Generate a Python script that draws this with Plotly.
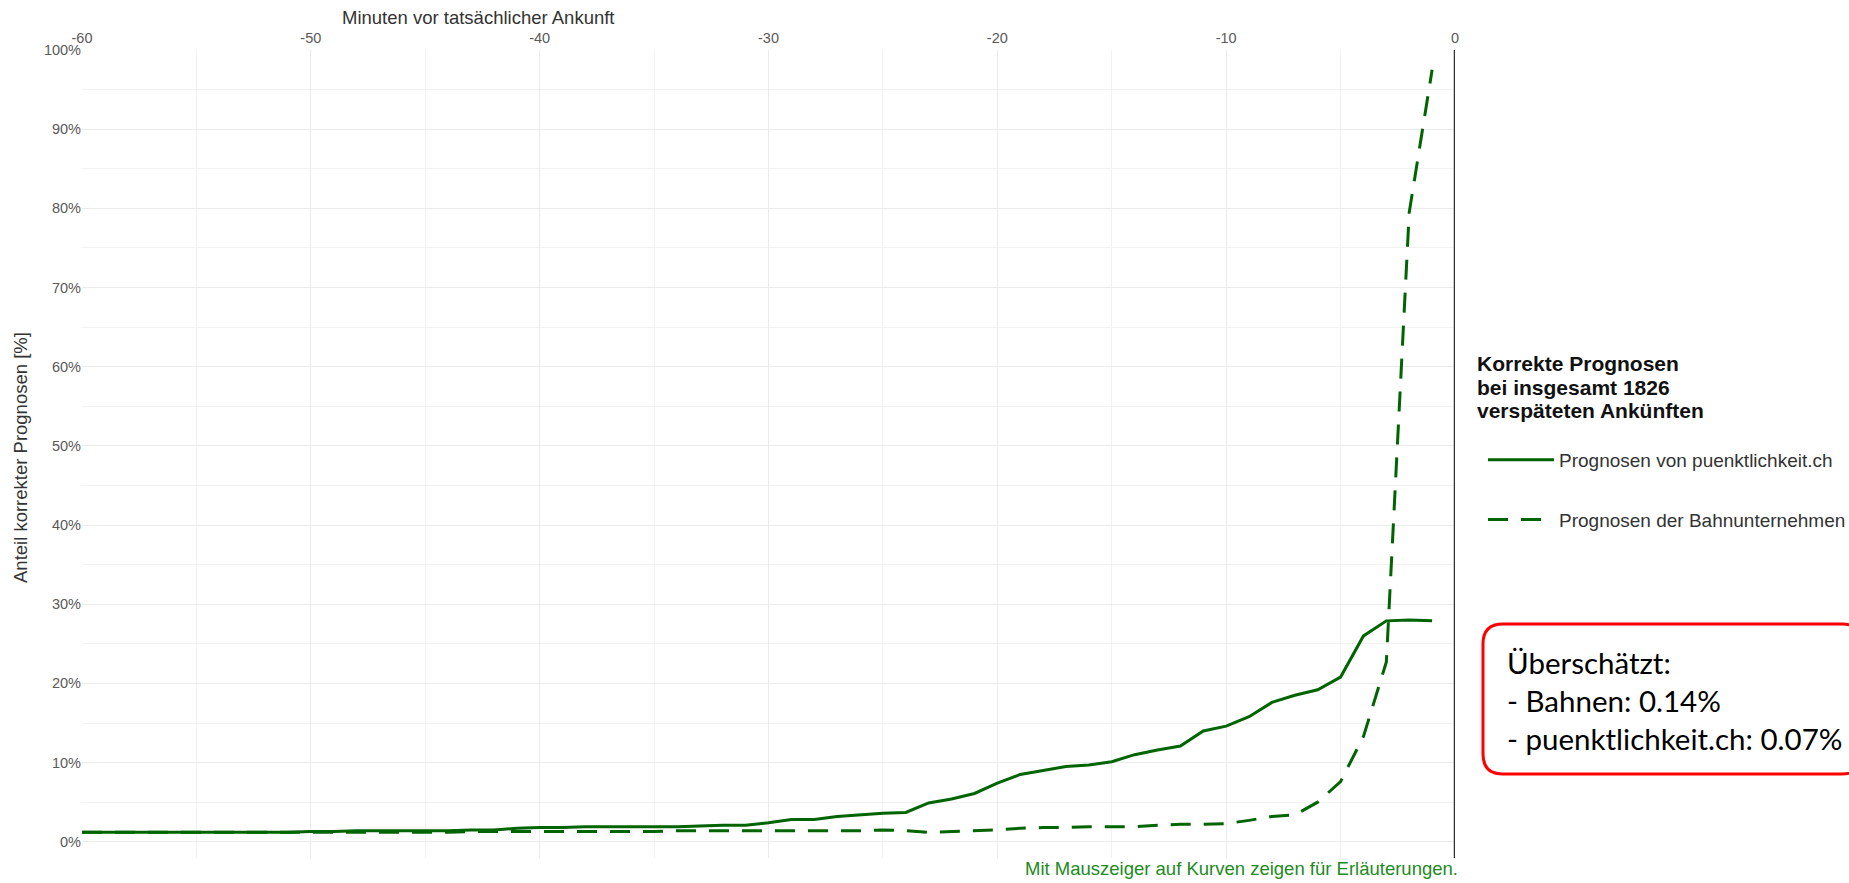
import plotly.graph_objects as go

# ---------------- data ----------------
minutes = list(range(-60, 0))

puenktlichkeit = [
    1.2, 1.2, 1.2, 1.2, 1.2, 1.2, 1.2, 1.2, 1.2, 1.2,   # -60..-51
    1.3, 1.3, 1.4, 1.4, 1.4, 1.4, 1.4, 1.5, 1.5, 1.7,   # -50..-41
    1.8, 1.8, 1.9, 1.9, 1.9, 1.9, 1.9, 2.0, 2.1, 2.1,   # -40..-31
    2.4, 2.8, 2.8, 3.2, 3.4, 3.6, 3.7, 4.9, 5.4, 6.1,   # -30..-21
    7.4, 8.5, 9.0, 9.5, 9.7, 10.1, 11.0, 11.6, 12.1, 14.0,  # -20..-11
    14.6, 15.8, 17.6, 18.5, 19.2, 20.8, 26.0, 27.9, 28.0, 27.9,  # -10..-1
]

bahnen = [
    1.2, 1.2, 1.2, 1.2, 1.2, 1.2, 1.2, 1.2, 1.2, 1.2,   # -60..-51
    1.2, 1.2, 1.2, 1.2, 1.2, 1.2, 1.2, 1.3, 1.3, 1.3,   # -50..-41
    1.3, 1.3, 1.3, 1.3, 1.3, 1.3, 1.4, 1.4, 1.4, 1.4,   # -40..-31
    1.4, 1.4, 1.4, 1.4, 1.4, 1.5, 1.4, 1.2, 1.3, 1.4,   # -30..-21
    1.5, 1.7, 1.8, 1.8, 1.9, 1.9, 1.9, 2.1, 2.2, 2.2,   # -20..-11
    2.3, 2.7, 3.2, 3.4, 5.0, 7.6, 13.3, 22.7, 79.5, 97.5,  # -10..-1
]

series_names = ["Prognosen von puenktlichkeit.ch", "Prognosen der Bahnunternehmen"]
x_ticks = [-60, -50, -40, -30, -20, -10, 0]
y_ticks = [0, 10, 20, 30, 40, 50, 60, 70, 80, 90, 100]
y_minor = [5, 15, 25, 35, 45, 55, 65, 75, 85, 95]
y_labels = [f"{v}%" for v in y_ticks]

legend_title_lines = ["Korrekte Prognosen", "bei insgesamt 1826", "verspäteten Ankünften"]
x_title = "Minuten vor tatsächlicher Ankunft"
y_title = "Anteil korrekter Prognosen [%]"
box_lines = ["Überschätzt:", "- Bahnen: 0.14%", "- puenktlichkeit.ch: 0.07%"]
footer = "Mit Mauszeiger auf Kurven zeigen für Erläuterungen."

# ---------------- layout geometry (pixels) ----------------
W, H = 1849, 883
L, R, T, B = 82, 1455, 50, 858
PW, PH = R - L, B - T


def px_x(p):
    return (p - L) / PW


def px_y(p):
    return (B - p) / PH


GREEN = "#006400"
FONT = "Liberation Sans, Arial, sans-serif"

fig = go.Figure()
fig.add_trace(go.Scatter(
    x=minutes, y=puenktlichkeit, mode="lines", name=series_names[0],
    line=dict(color=GREEN, width=3), legendgroup="a",
    hovertemplate="%{x} min: %{y:.1f}%<extra>puenktlichkeit.ch</extra>",
))
fig.add_trace(go.Scatter(
    x=minutes, y=bahnen, mode="lines", name=series_names[1],
    line=dict(color=GREEN, width=3, dash="20px,13px"), legendgroup="b",
    hovertemplate="%{x} min: %{y:.1f}%<extra>Bahnunternehmen</extra>",
))

# vertical line at 0
fig.add_shape(type="line", xref="x", yref="paper", x0=0, x1=0, y0=0, y1=1,
              line=dict(color="#333333", width=2.5))

# rounded red box
bx0, bx1, by0, by1, r = 1483, 1862, 624, 774, 20
X = px_x
Y = px_y
path = (
    f"M {X(bx0 + r)},{Y(by0)} L {X(bx1 - r)},{Y(by0)} "
    f"Q {X(bx1)},{Y(by0)} {X(bx1)},{Y(by0 + r)} "
    f"L {X(bx1)},{Y(by1 - r)} Q {X(bx1)},{Y(by1)} {X(bx1 - r)},{Y(by1)} "
    f"L {X(bx0 + r)},{Y(by1)} Q {X(bx0)},{Y(by1)} {X(bx0)},{Y(by1 - r)} "
    f"L {X(bx0)},{Y(by0 + r)} Q {X(bx0)},{Y(by0)} {X(bx0 + r)},{Y(by0)} Z"
)
fig.add_shape(type="path", xref="paper", yref="paper", path=path,
              line=dict(color="#ff0000", width=3), fillcolor="rgba(0,0,0,0)")

for line_text, ypix in zip(box_lines, [662, 700, 738]):
    fig.add_annotation(
        text=line_text, xref="paper", yref="paper", x=px_x(1505), y=px_y(ypix),
        xanchor="left", yanchor="middle", showarrow=False,
        font=dict(family="Lato, Open Sans, sans-serif", size=29.5, color="#000000"),
    )

# legend title (three tight lines)
for line_text, ypix in zip(legend_title_lines, [363, 387, 411]):
    fig.add_annotation(
        text=f"<b>{line_text}</b>", xref="paper", yref="paper", x=px_x(1475), y=px_y(ypix),
        xanchor="left", yanchor="middle", showarrow=False,
        font=dict(family=FONT, size=21, color="#111111"),
    )

# x axis title (top, off-centre as in original)
fig.add_annotation(
    text=x_title, xref="paper", yref="paper", x=px_x(478), y=px_y(18),
    xanchor="center", yanchor="middle", showarrow=False,
    font=dict(family=FONT, size=18.5, color="#333333"),
)

# y axis title
fig.add_annotation(
    text=y_title, xref="paper", yref="paper", x=px_x(20), y=px_y(458),
    xanchor="center", yanchor="middle", showarrow=False, textangle=-90,
    font=dict(family=FONT, size=18.5, color="#333333"),
)

# footer
fig.add_annotation(
    text=footer, xref="paper", yref="paper", x=px_x(1460), y=px_y(869),
    xanchor="right", yanchor="middle", showarrow=False,
    font=dict(family=FONT, size=18.5, color="#228B22"),
)

fig.update_layout(
    width=W, height=H,
    margin=dict(l=L, r=W - R, t=T, b=H - B, autoexpand=False),
    paper_bgcolor="white", plot_bgcolor="white",
    font=dict(family=FONT, color="#4d4d4d"),
    showlegend=True,
    legend=dict(
        font=dict(family=FONT, size=19, color="#333333"),
        x=px_x(1483), y=px_y(441), xanchor="left", yanchor="top",
        tracegroupgap=32, itemwidth=66, bgcolor="rgba(0,0,0,0)",
    ),
    xaxis=dict(
        range=[-60, 0], side="top", tickvals=x_ticks,
        ticktext=[str(v) for v in x_ticks],
        showgrid=True, gridcolor="#ebebeb", gridwidth=1.3,
        minor=dict(dtick=5, showgrid=True, gridcolor="#f2f2f2", gridwidth=1),
        zeroline=False, showline=False, ticks="",
        tickfont=dict(family=FONT, size=14.5, color="#595959"),
        ticklabelstandoff=3,
        fixedrange=True,
    ),
    yaxis=dict(
        range=[-2.05, 100], tickvals=y_ticks, ticktext=y_labels,
        showgrid=True, gridcolor="#ebebeb", gridwidth=1.3,
        minor=dict(tickvals=y_minor, showgrid=True, gridcolor="#f2f2f2", gridwidth=1),
        zeroline=False, showline=False, ticks="",
        tickfont=dict(family=FONT, size=14.5, color="#595959"),
        fixedrange=True,
    ),
)

fig.write_html(
    "out.html",
    config={"displayModeBar": False},
    post_script="document.body.style.margin='0px';document.body.style.overflow='hidden';",
)
